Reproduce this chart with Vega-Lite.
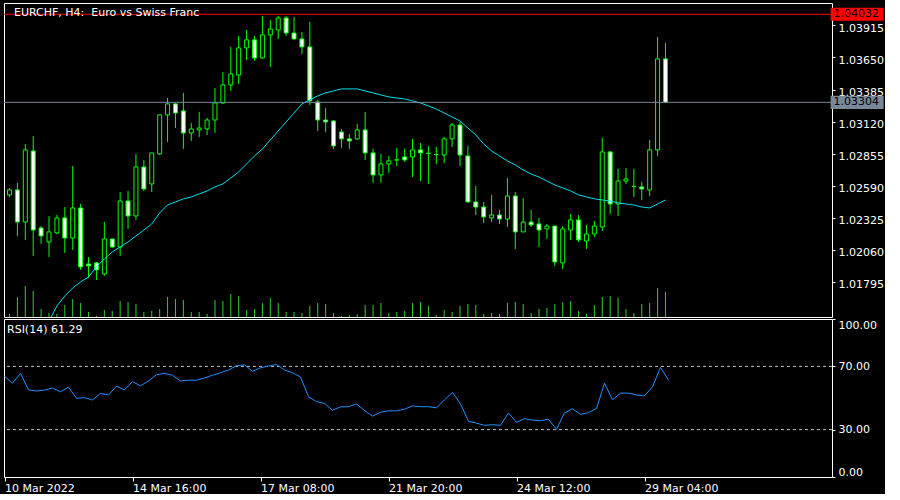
{
  "$schema": "https://vega.github.io/schema/vega-lite/v6.json",
  "background": "black",
  "padding": {"left": 2, "top": 2, "right": 0, "bottom": 0},
  "spacing": 2,
  "bounds": "flush",
  "config": {
    "view": {"stroke": "white", "strokeWidth": 1},
    "font": "DejaVu Sans",
    "axis": {"labelFont": "DejaVu Sans", "labelFontSize": 11, "labelColor": "white", "tickColor": "white", "domain": false, "grid": false, "labelOverlap": false}
  },
  "datasets": {
    "candles": [
      {"i":0,"o":1.02539,"h":1.02597,"l":1.02522,"c":1.02580,"v":300,"ma":null,"rsi":63.75},
      {"i":1,"o":1.02580,"h":1.02638,"l":1.02200,"c":1.02315,"v":2000,"ma":null,"rsi":59.4},
      {"i":2,"o":1.02315,"h":1.02960,"l":1.02167,"c":1.02911,"v":3100,"ma":null,"rsi":65.6},
      {"i":3,"o":1.02902,"h":1.03026,"l":1.02035,"c":1.02249,"v":2600,"ma":null,"rsi":55.2},
      {"i":4,"o":1.02266,"h":1.02282,"l":1.02134,"c":1.02200,"v":800,"ma":null,"rsi":54.4},
      {"i":5,"o":1.02150,"h":1.02365,"l":1.02026,"c":1.02233,"v":400,"ma":1.01498,"rsi":55.0},
      {"i":6,"o":1.02225,"h":1.02373,"l":1.02216,"c":1.02349,"v":300,"ma":1.01621,"rsi":56.4},
      {"i":7,"o":1.02349,"h":1.02439,"l":1.02059,"c":1.02183,"v":1200,"ma":1.01704,"rsi":53.9},
      {"i":8,"o":1.02183,"h":1.02778,"l":1.02084,"c":1.02431,"v":1800,"ma":1.01770,"rsi":56.9},
      {"i":9,"o":1.02431,"h":1.02464,"l":1.01919,"c":1.01944,"v":1400,"ma":1.01820,"rsi":49.8},
      {"i":10,"o":1.01968,"h":1.02026,"l":1.01853,"c":1.01952,"v":500,"ma":1.01861,"rsi":50.2},
      {"i":11,"o":1.01977,"h":1.01985,"l":1.01836,"c":1.01919,"v":100,"ma":1.01944,"rsi":48.75},
      {"i":12,"o":1.01886,"h":1.02315,"l":1.01869,"c":1.02175,"v":700,"ma":1.02010,"rsi":52.9},
      {"i":13,"o":1.02175,"h":1.02175,"l":1.02101,"c":1.02109,"v":600,"ma":1.02068,"rsi":51.9},
      {"i":14,"o":1.02109,"h":1.02563,"l":1.02035,"c":1.02489,"v":1600,"ma":1.02109,"rsi":57.5},
      {"i":15,"o":1.02489,"h":1.02572,"l":1.02258,"c":1.02365,"v":1500,"ma":1.02150,"rsi":55.2},
      {"i":16,"o":1.02365,"h":1.02878,"l":1.02332,"c":1.02770,"v":1300,"ma":1.02200,"rsi":60.4},
      {"i":17,"o":1.02770,"h":1.02828,"l":1.02572,"c":1.02588,"v":500,"ma":1.02249,"rsi":57.7},
      {"i":18,"o":1.02630,"h":1.02886,"l":1.02563,"c":1.02886,"v":600,"ma":1.02299,"rsi":60.8},
      {"i":19,"o":1.02878,"h":1.03200,"l":1.02869,"c":1.03200,"v":800,"ma":1.02390,"rsi":64.75},
      {"i":20,"o":1.03200,"h":1.03340,"l":1.02977,"c":1.03291,"v":2000,"ma":1.02456,"rsi":65.6},
      {"i":21,"o":1.03291,"h":1.03299,"l":1.03092,"c":1.03216,"v":1800,"ma":1.02481,"rsi":64.4},
      {"i":22,"o":1.03233,"h":1.03382,"l":1.02919,"c":1.03051,"v":1700,"ma":1.02506,"rsi":60.8},
      {"i":23,"o":1.03051,"h":1.03134,"l":1.02985,"c":1.03084,"v":500,"ma":1.02522,"rsi":61.25},
      {"i":24,"o":1.03076,"h":1.03225,"l":1.03018,"c":1.03092,"v":500,"ma":1.02547,"rsi":61.25},
      {"i":25,"o":1.03084,"h":1.03175,"l":1.03035,"c":1.03158,"v":300,"ma":1.02572,"rsi":62.7},
      {"i":26,"o":1.03158,"h":1.03423,"l":1.03051,"c":1.03299,"v":1700,"ma":1.02605,"rsi":64.4},
      {"i":27,"o":1.03299,"h":1.03555,"l":1.03291,"c":1.03448,"v":1600,"ma":1.02630,"rsi":66.0},
      {"i":28,"o":1.03448,"h":1.03762,"l":1.03398,"c":1.03539,"v":2300,"ma":1.02679,"rsi":67.7},
      {"i":29,"o":1.03530,"h":1.03853,"l":1.03456,"c":1.03754,"v":2100,"ma":1.02729,"rsi":70.4},
      {"i":30,"o":1.03754,"h":1.03902,"l":1.03654,"c":1.03820,"v":700,"ma":1.02795,"rsi":71.0},
      {"i":31,"o":1.03820,"h":1.03853,"l":1.03646,"c":1.03671,"v":800,"ma":1.02861,"rsi":66.9},
      {"i":32,"o":1.03671,"h":1.04018,"l":1.03663,"c":1.03861,"v":1400,"ma":1.02919,"rsi":69.1},
      {"i":33,"o":1.03861,"h":1.03985,"l":1.03597,"c":1.03910,"v":1900,"ma":1.02993,"rsi":70.2},
      {"i":34,"o":1.03902,"h":1.04018,"l":1.03828,"c":1.04001,"v":1400,"ma":1.03068,"rsi":71.25},
      {"i":35,"o":1.04001,"h":1.04018,"l":1.03853,"c":1.03877,"v":500,"ma":1.03142,"rsi":67.7},
      {"i":36,"o":1.03877,"h":1.04010,"l":1.03820,"c":1.03828,"v":500,"ma":1.03216,"rsi":66.0},
      {"i":37,"o":1.03828,"h":1.03886,"l":1.03704,"c":1.03762,"v":400,"ma":1.03291,"rsi":63.3},
      {"i":38,"o":1.03762,"h":1.03968,"l":1.03282,"c":1.03316,"v":1100,"ma":1.03324,"rsi":50.8},
      {"i":39,"o":1.03307,"h":1.03324,"l":1.03068,"c":1.03158,"v":1400,"ma":1.03357,"rsi":47.7},
      {"i":40,"o":1.03158,"h":1.03258,"l":1.03059,"c":1.03142,"v":1300,"ma":1.03382,"rsi":46.6},
      {"i":41,"o":1.03150,"h":1.03158,"l":1.02919,"c":1.02944,"v":400,"ma":1.03398,"rsi":42.25},
      {"i":42,"o":1.03059,"h":1.03084,"l":1.02927,"c":1.03002,"v":100,"ma":1.03415,"rsi":44.4},
      {"i":43,"o":1.03002,"h":1.03043,"l":1.02919,"c":1.02985,"v":200,"ma":1.03415,"rsi":44.5},
      {"i":44,"o":1.03002,"h":1.03125,"l":1.02993,"c":1.03076,"v":300,"ma":1.03415,"rsi":46.25},
      {"i":45,"o":1.03076,"h":1.03225,"l":1.02828,"c":1.02886,"v":1200,"ma":1.03398,"rsi":42.1},
      {"i":46,"o":1.02886,"h":1.02919,"l":1.02638,"c":1.02704,"v":1200,"ma":1.03382,"rsi":38.5},
      {"i":47,"o":1.02704,"h":1.02878,"l":1.02638,"c":1.02795,"v":1400,"ma":1.03365,"rsi":41.0},
      {"i":48,"o":1.02795,"h":1.02861,"l":1.02721,"c":1.02820,"v":400,"ma":1.03349,"rsi":41.9},
      {"i":49,"o":1.02828,"h":1.02927,"l":1.02778,"c":1.02828,"v":500,"ma":1.03340,"rsi":41.9},
      {"i":50,"o":1.02853,"h":1.02919,"l":1.02812,"c":1.02828,"v":600,"ma":1.03332,"rsi":42.9},
      {"i":51,"o":1.02853,"h":1.03002,"l":1.02687,"c":1.02911,"v":1400,"ma":1.03316,"rsi":45.0},
      {"i":52,"o":1.02911,"h":1.02968,"l":1.02654,"c":1.02886,"v":1500,"ma":1.03299,"rsi":44.5},
      {"i":53,"o":1.02882,"h":1.02944,"l":1.02630,"c":1.02882,"v":1100,"ma":1.03274,"rsi":44.5},
      {"i":54,"o":1.02873,"h":1.02935,"l":1.02795,"c":1.02873,"v":200,"ma":1.03249,"rsi":43.75},
      {"i":55,"o":1.02869,"h":1.03018,"l":1.02803,"c":1.03002,"v":700,"ma":1.03216,"rsi":48.9},
      {"i":56,"o":1.03002,"h":1.03134,"l":1.02935,"c":1.03117,"v":500,"ma":1.03183,"rsi":53.5},
      {"i":57,"o":1.03117,"h":1.03142,"l":1.02778,"c":1.02869,"v":1100,"ma":1.03150,"rsi":46.25},
      {"i":58,"o":1.02861,"h":1.02944,"l":1.02473,"c":1.02481,"v":1300,"ma":1.03092,"rsi":35.2},
      {"i":59,"o":1.02481,"h":1.02613,"l":1.02373,"c":1.02439,"v":1200,"ma":1.03035,"rsi":34.1},
      {"i":60,"o":1.02439,"h":1.02481,"l":1.02307,"c":1.02357,"v":300,"ma":1.02960,"rsi":32.7},
      {"i":61,"o":1.02349,"h":1.02539,"l":1.02315,"c":1.02373,"v":400,"ma":1.02902,"rsi":33.1},
      {"i":62,"o":1.02373,"h":1.02415,"l":1.02299,"c":1.02340,"v":300,"ma":1.02861,"rsi":32.7},
      {"i":63,"o":1.02340,"h":1.02679,"l":1.02274,"c":1.02530,"v":1400,"ma":1.02820,"rsi":40.6},
      {"i":64,"o":1.02530,"h":1.02563,"l":1.02092,"c":1.02233,"v":1500,"ma":1.02787,"rsi":34.6},
      {"i":65,"o":1.02233,"h":1.02514,"l":1.02233,"c":1.02315,"v":1300,"ma":1.02745,"rsi":36.9},
      {"i":66,"o":1.02315,"h":1.02415,"l":1.02274,"c":1.02291,"v":400,"ma":1.02712,"rsi":36.0},
      {"i":67,"o":1.02299,"h":1.02349,"l":1.02109,"c":1.02249,"v":800,"ma":1.02687,"rsi":35.6},
      {"i":68,"o":1.02258,"h":1.02299,"l":1.02175,"c":1.02282,"v":900,"ma":1.02654,"rsi":36.6},
      {"i":69,"o":1.02282,"h":1.02282,"l":1.01952,"c":1.01985,"v":1300,"ma":1.02621,"rsi":30.2},
      {"i":70,"o":1.01977,"h":1.02282,"l":1.01927,"c":1.02258,"v":1500,"ma":1.02597,"rsi":40.6},
      {"i":71,"o":1.02249,"h":1.02382,"l":1.02167,"c":1.02332,"v":1600,"ma":1.02572,"rsi":43.1},
      {"i":72,"o":1.02332,"h":1.02373,"l":1.02150,"c":1.02167,"v":600,"ma":1.02539,"rsi":39.6},
      {"i":73,"o":1.02158,"h":1.02291,"l":1.02092,"c":1.02216,"v":300,"ma":1.02522,"rsi":40.8},
      {"i":74,"o":1.02216,"h":1.02324,"l":1.02191,"c":1.02282,"v":1200,"ma":1.02506,"rsi":43.3},
      {"i":75,"o":1.02274,"h":1.03010,"l":1.02241,"c":1.02894,"v":2000,"ma":1.02497,"rsi":59.4},
      {"i":76,"o":1.02894,"h":1.02902,"l":1.02382,"c":1.02464,"v":2100,"ma":1.02489,"rsi":48.9},
      {"i":77,"o":1.02464,"h":1.02754,"l":1.02365,"c":1.02654,"v":1900,"ma":1.02473,"rsi":53.1},
      {"i":78,"o":1.02654,"h":1.02762,"l":1.02630,"c":1.02671,"v":800,"ma":1.02464,"rsi":53.1},
      {"i":79,"o":1.02609,"h":1.02754,"l":1.02522,"c":1.02609,"v":400,"ma":1.02456,"rsi":51.9},
      {"i":80,"o":1.02605,"h":1.02646,"l":1.02497,"c":1.02588,"v":1300,"ma":1.02439,"rsi":51.4},
      {"i":81,"o":1.02580,"h":1.02993,"l":1.02530,"c":1.02911,"v":1400,"ma":1.02431,"rsi":57.1},
      {"i":82,"o":1.02911,"h":1.03844,"l":1.02861,"c":1.03663,"v":2900,"ma":1.02464,"rsi":69.4},
      {"i":83,"o":1.03663,"h":1.03795,"l":1.03304,"c":1.03304,"v":2500,"ma":1.02497,"rsi":61.29}
    ]
  },
  "vconcat": [
    {
      "width": 828,
      "height": 314,
      "data": {"name": "candles"},
      "layer": [
        {
          "mark": {"type": "bar", "size": 1, "color": "#32CD32"},
          "encoding": {
            "x": {"field": "i", "type": "quantitative", "scale": {"domain": [-0.0625, 103.4375], "nice": false, "zero": false}, "axis": null},
            "y": {"field": "v", "type": "quantitative", "scale": {"domain": [0, 31400], "nice": false}, "axis": null}
          }
        },
        {
          "layer": [
            {
              "mark": {"type": "rule", "color": "#00FF00", "strokeWidth": 1},
              "encoding": {
                "x": {"field": "i", "type": "quantitative", "axis": null},
                "y": {"field": "l", "type": "quantitative", "scale": {"domain": [1.0153, 1.04125], "nice": false, "zero": false},
                  "axis": {"orient": "right", "title": null, "values": [1.03915, 1.0365, 1.03385, 1.0312, 1.02855, 1.0259, 1.02325, 1.0206, 1.01795], "tickCount": 30, "format": ".5f", "tickSize": 3, "tickOffset": -3, "labelOffset": 3, "labelPadding": 3, "labelOverlap": false, "labelBound": false}},
                "y2": {"field": "h"}
              }
            },
            {
              "mark": {"type": "bar", "size": 4, "stroke": "#00FF00", "strokeWidth": 1},
              "encoding": {
                "x": {"field": "i", "type": "quantitative"},
                "y": {"field": "o", "type": "quantitative", "title": null},
                "y2": {"field": "c"},
                "fill": {"condition": {"test": "datum.c < datum.o", "value": "white"}, "value": "black"}
              }
            },
            {
              "mark": {"type": "line", "color": "#00DDEE", "strokeWidth": 1, "clip": true},
              "encoding": {
                "x": {"field": "i", "type": "quantitative"},
                "y": {"field": "ma", "type": "quantitative", "title": null}
              }
            },
            {
              "data": {"values": [{}]},
              "mark": {"type": "rule", "color": "#FF0000", "strokeWidth": 1},
              "encoding": {"y": {"datum": 1.04032}}
            },
            {
              "data": {"values": [{}]},
              "mark": {"type": "rule", "color": "#778899", "strokeWidth": 1},
              "encoding": {"y": {"datum": 1.03304}}
            },
            {
              "data": {"values": [{}]},
              "mark": {"type": "rect", "color": "#FF0000"},
              "encoding": {"x": {"datum": 103.9}, "x2": {"datum": 110.6}, "y": {"datum": 1.04086}, "y2": {"datum": 1.03978}}
            },
            {
              "data": {"values": [{}]},
              "mark": {"type": "rect", "color": "#778899"},
              "encoding": {"x": {"datum": 103.9}, "x2": {"datum": 110.6}, "y": {"datum": 1.03358}, "y2": {"datum": 1.0325}}
            },
            {
              "data": {"values": [{}]},
              "mark": {"type": "text", "align": "left", "baseline": "middle", "font": "DejaVu Sans", "fontSize": 11, "color": "black"},
              "encoding": {"x": {"datum": 104.27}, "y": {"datum": 1.04032}, "text": {"value": "1.04032"}}
            },
            {
              "data": {"values": [{}]},
              "mark": {"type": "text", "align": "left", "baseline": "middle", "font": "DejaVu Sans", "fontSize": 11, "color": "black"},
              "encoding": {"x": {"datum": 104.27}, "y": {"datum": 1.03304}, "text": {"value": "1.03304"}}
            },
            {
              "data": {"values": [{}]},
              "mark": {"type": "text", "align": "left", "baseline": "middle", "font": "DejaVu Sans", "fontSize": 11, "color": "white"},
              "encoding": {"x": {"datum": 0.5625}, "y": {"datum": 1.04043}, "text": {"value": "EURCHF, H4:\u00a0 Euro vs Swiss Franc"}}
            }
          ]
        }
      ],
      "resolve": {"scale": {"y": "independent"}, "axis": {"y": "independent"}}
    },
    {
      "width": 828,
      "height": 158,
      "layer": [
        {
          "data": {"values": [{"lvl": 70}, {"lvl": 30}]},
          "mark": {"type": "rule", "color": "#C0C0C0", "strokeWidth": 1, "strokeDash": [3, 3]},
          "encoding": {
            "y": {"field": "lvl", "type": "quantitative", "scale": {"domain": [0, 100], "nice": false},
              "axis": {"orient": "right", "title": null, "values": [0, 30, 70, 100], "tickCount": 10, "format": ".2f", "tickSize": 3, "labelPadding": 3, "labelFlush": true, "labelOverlap": false}}
          }
        },
        {
          "data": {"name": "candles"},
          "mark": {"type": "line", "color": "#1E90FF", "strokeWidth": 1},
          "encoding": {
            "x": {"field": "i", "type": "quantitative", "scale": {"domain": [-0.0625, 103.4375], "nice": false, "zero": false},
              "axis": {"title": null, "values": [0, 16, 32, 48, 64, 80], "tickCount": 10, "tickSize": 4, "labelPadding": 1, "labelAlign": "left", "labelFlush": false, "labelOverlap": false, "labelBound": false,
                "labelExpr": "datum.value == 0 ? '10 Mar 2022' : datum.value == 16 ? '14 Mar 16:00' : datum.value == 32 ? '17 Mar 08:00' : datum.value == 48 ? '21 Mar 20:00' : datum.value == 64 ? '24 Mar 12:00' : '29 Mar 04:00'"}},
            "y": {"field": "rsi", "type": "quantitative", "title": null}
          }
        },
        {
          "data": {"values": [{}]},
          "mark": {"type": "text", "align": "left", "baseline": "middle", "font": "DejaVu Sans", "fontSize": 11, "color": "white"},
          "encoding": {"x": {"datum": 0.3125}, "y": {"datum": 92.85}, "text": {"value": "RSI(14) 61.29"}}
        }
      ]
    }
  ]
}
